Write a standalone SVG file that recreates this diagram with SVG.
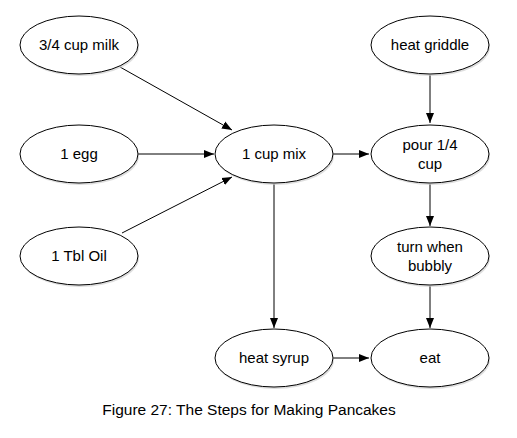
<svg xmlns="http://www.w3.org/2000/svg" width="517" height="438" viewBox="0 0 517 438">
<style>
.n ellipse.s{fill:#c8c8c8;stroke:none;opacity:0.6}
.n ellipse.b{fill:#fff;stroke:#000;stroke-width:1}
text{font-family:"Liberation Sans",Arial,sans-serif;font-size:15px;fill:#000;text-anchor:middle}
.e line{stroke:#000;stroke-width:1;marker-end:url(#ah)}
</style>
<defs>
<marker id="ah" viewBox="0 0 10 10" refX="10" refY="5" markerWidth="10" markerHeight="10" markerUnits="userSpaceOnUse" orient="auto">
<path d="M0,1 L10,5 L0,9 z" fill="#000"/>
</marker>
</defs>
<rect width="517" height="438" fill="#fff"/>
<g class="e">
<line x1="120" y1="67" x2="232" y2="130"/>
<line x1="138" y1="154" x2="214" y2="154"/>
<line x1="122" y1="233" x2="232" y2="177"/>
<line x1="333" y1="154" x2="369" y2="154"/>
<line x1="430" y1="75" x2="430" y2="123"/>
<line x1="274" y1="184" x2="274" y2="328"/>
<line x1="430" y1="184" x2="430" y2="226"/>
<line x1="430" y1="286" x2="430" y2="328"/>
<line x1="333" y1="358" x2="369" y2="358"/>
</g>
<g id="milk" class="n"><ellipse class="s" cx="80" cy="47" rx="59" ry="29"/><ellipse class="b" cx="79" cy="45" rx="59" ry="29"/><text x="79" y="50">3/4 cup milk</text></g>
<g id="egg" class="n"><ellipse class="s" cx="80" cy="156" rx="59" ry="29"/><ellipse class="b" cx="79" cy="154" rx="59" ry="29"/><text x="79" y="159">1 egg</text></g>
<g id="oil" class="n"><ellipse class="s" cx="80" cy="258" rx="59" ry="29"/><ellipse class="b" cx="79" cy="256" rx="59" ry="29"/><text x="79" y="261">1 Tbl Oil</text></g>
<g id="mix" class="n"><ellipse class="s" cx="275" cy="156" rx="59" ry="29"/><ellipse class="b" cx="274" cy="154" rx="59" ry="29"/><text x="274" y="159">1 cup mix</text></g>
<g id="griddle" class="n"><ellipse class="s" cx="431" cy="47" rx="59" ry="29"/><ellipse class="b" cx="430" cy="45" rx="59" ry="29"/><text x="430" y="50">heat griddle</text></g>
<g id="pour" class="n"><ellipse class="s" cx="431" cy="156" rx="59" ry="29"/><ellipse class="b" cx="430" cy="154" rx="59" ry="29"/><text x="430" y="150">pour 1/4</text><text x="430" y="169">cup</text></g>
<g id="turn" class="n"><ellipse class="s" cx="431" cy="258" rx="59" ry="29"/><ellipse class="b" cx="430" cy="256" rx="59" ry="29"/><text x="430" y="252">turn when</text><text x="430" y="271">bubbly</text></g>
<g id="syrup" class="n"><ellipse class="s" cx="275" cy="360" rx="59" ry="29"/><ellipse class="b" cx="274" cy="358" rx="59" ry="29"/><text x="274" y="363">heat syrup</text></g>
<g id="eat" class="n"><ellipse class="s" cx="431" cy="360" rx="59" ry="29"/><ellipse class="b" cx="430" cy="358" rx="59" ry="29"/><text x="430" y="363">eat</text></g>
<text x="249" y="415" style="font-size:15.5px">Figure 27: The Steps for Making Pancakes</text>
</svg>
